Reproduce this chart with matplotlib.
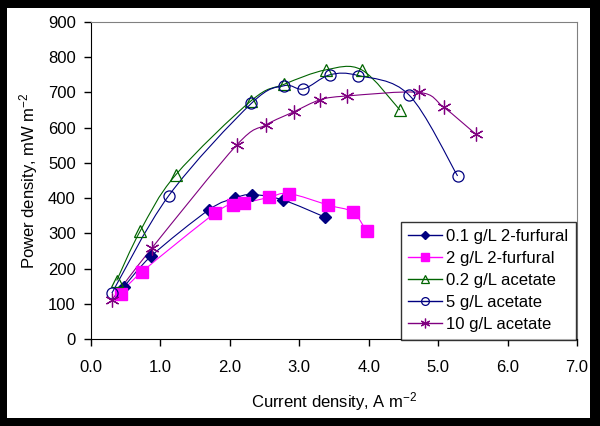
import matplotlib.pyplot as plt
import numpy as np
from matplotlib.path import Path
from matplotlib.patches import PathPatch, Rectangle
from matplotlib.lines import Line2D

plt.rcParams['font.family'] = ['Liberation Sans', 'DejaVu Sans']
plt.rcParams['mathtext.fontset'] = 'custom'
plt.rcParams['mathtext.rm'] = 'Liberation Sans'
plt.rcParams['mathtext.it'] = 'Liberation Sans:italic'

# 0.1 g/L 2-furfural
x_f01 = [0.47, 0.87, 1.70, 2.07, 2.32, 2.76, 3.37]
y_f01 = [147, 236, 367, 400, 410, 395, 346]
# 2 g/L 2-furfural
x_f2 = [0.43, 0.73, 1.79, 2.04, 2.21, 2.56, 2.85, 3.42, 3.77, 3.97]
y_f2 = [128, 190, 358, 380, 386, 402, 413, 380, 360, 306]
# 0.2 g/L acetate
x_a02 = [0.37, 0.71, 1.22, 2.31, 2.78, 3.38, 3.90, 4.45]
y_a02 = [166, 307, 466, 677, 723, 764, 764, 650]
# 5 g/L acetate
x_a5 = [0.30, 1.12, 2.31, 2.78, 3.06, 3.44, 3.85, 4.58, 5.28]
y_a5 = [130, 407, 669, 719, 710, 750, 748, 693, 463]
# 10 g/L acetate
x_a10 = [0.30, 0.88, 2.10, 2.52, 2.92, 3.30, 3.69, 4.73, 5.08, 5.54]
y_a10 = [111, 259, 551, 608, 645, 679, 690, 700, 658, 582]

labels = ["0.1 g/L 2-furfural", "2 g/L 2-furfural", "0.2 g/L acetate",
          "5 g/L acetate", "10 g/L acetate"]


def smooth_path(xs, ys):
    # Excel-style smoothed line: cubic Bezier segments through the points
    p = np.column_stack([xs, ys]).astype(float)
    verts = [p[0]]
    codes = [Path.MOVETO]
    n = len(p)
    for i in range(n - 1):
        p0 = p[i - 1] if i > 0 else p[i]
        p1 = p[i]
        p2 = p[i + 1]
        p3 = p[i + 2] if i + 2 < n else p[i + 1]
        c1 = p1 + (p2 - p0) / 6.0
        c2 = p2 - (p3 - p1) / 6.0
        verts += [c1, c2, p2]
        codes += [Path.CURVE4] * 3
    return Path(verts, codes)


fig = plt.figure(figsize=(6.0, 4.26), dpi=100, facecolor='black')
fig.patches.append(Rectangle((7 / 600, 8 / 426), 583 / 600, 410 / 426,
                             transform=fig.transFigure, facecolor='white',
                             edgecolor='none', zorder=-10))
ax = fig.add_axes([91 / 600, 87 / 426, 486 / 600, 317 / 426])
ax.set_zorder(1)

series = [
    (x_f01, y_f01, '#000080', dict(marker='D', ms=6.5, mfc='#000080', mec='#000080')),
    (x_f2, y_f2, '#FF00FF', dict(marker='s', ms=8, mfc='#FF00FF', mec='#FF00FF')),
    (x_a02, y_a02, '#006400', dict(marker='^', ms=9, mfc='none', mec='#006400', mew=0.9)),
    (x_a5, y_a5, '#000080', dict(marker='o', ms=8, mfc='none', mec='#000080', mew=0.9)),
    (x_a10, y_a10, '#800080', dict(marker=(6, 2, 0), ms=10, mec='#800080', mew=0.9)),
]

handles = []
for (xs, ys, col, mk), lab in zip(series, labels):
    ax.add_patch(PathPatch(smooth_path(xs, ys), facecolor='none', edgecolor=col, lw=0.8))
    ax.plot(xs, ys, ls='none', **mk)
    hk = dict(mk)
    hk['ms'] = mk['ms'] * 0.7
    handles.append(Line2D([], [], color=col, lw=1.0, **hk))

ax.set_xlim(0, 7)
ax.set_ylim(0, 900)
ax.set_xticks(np.arange(0, 8, 1))
ax.set_xticklabels(["%.1f" % v for v in np.arange(0, 8, 1)])
ax.set_yticks(np.arange(0, 1000, 100))
ax.tick_params(direction='out', length=5, width=1, labelsize=12, colors='black')
ax.tick_params(axis='x', pad=10)
ax.tick_params(axis='y', pad=6)
for s in ['top', 'right']:
    ax.spines[s].set_color('#808080')
for s in ['left', 'bottom']:
    ax.spines[s].set_color('black')

ax.set_xlabel("Current density, A m$^{-2}$", fontsize=12, labelpad=11)
ax.set_ylabel("Power density, mW m$^{-2}$", fontsize=12, labelpad=6)

leg = ax.legend(handles, labels, loc='lower right', bbox_to_anchor=(0.997, -0.002),
                fontsize=12, frameon=True, fancybox=False, edgecolor='black',
                handlelength=2.0, handletextpad=0.25, labelspacing=0.42,
                borderpad=0.45, borderaxespad=0)
leg.get_frame().set_linewidth(1.0)

fig.savefig('out.png', dpi=100, facecolor='black')
